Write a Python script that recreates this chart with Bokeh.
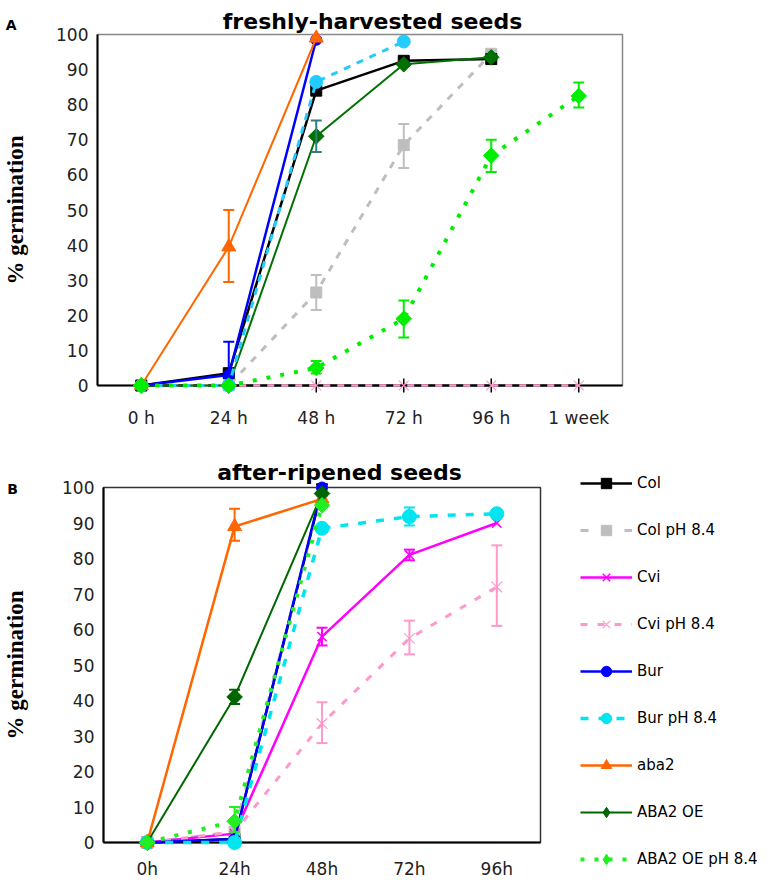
import numpy as np
from bokeh.plotting import figure
from bokeh.models import (Range1d, FixedTicker, Whisker, ColumnDataSource,
                          Legend, LegendItem, TeeHead)
from bokeh.layouts import column, row
from bokeh.core.properties import value
from bokeh.embed import file_html
from bokeh.resources import INLINE

# ---------------- data ----------------
top_cats = ["0 h", "24 h", "48 h", "72 h", "96 h", "1 week"]
bot_cats = ["0h", "24h", "48h", "72h", "96h"]

# A: freshly-harvested seeds (% germination)
fh_col = [0, 3.5, 84, 92.5, 93]
fh_col_ph = [0, 0, 26.5, 68.5, 94.5]
fh_cvi = [0, 0, 0, 0, 0, 0]
fh_cvi_ph = [0, 0, 0, 0, 0, 0]
fh_bur = [0, 3, 98.5]
fh_bur_ph = [0, 0, 86.5, 98]
fh_aba2 = [0, 39.5, 99]
fh_oe = [0, 0, 71, 91.5, 93.5]
fh_oe_ph = [0, 0, 5, 19, 65.5, 82.5]

# error bars A: (index, low, high)
fh_col_ph_err = ([2, 3], [21.5, 62], [31.5, 74.5])
fh_bur_err = ([1], [3], [12.5])
fh_aba2_err = ([1], [29.5], [50])
fh_oe_err = ([2], [66.5], [75.5])
fh_oe_ph_err = ([2, 3, 4, 5], [3.4, 13.7, 60.8, 79.2], [7, 24.2, 70, 86.3])

# B: after-ripened seeds (% germination)
ar_col = [0, 1, 99.5]
ar_col_ph = [0, 3, 99]
ar_cvi = [0, 2.5, 58, 81, 90]
ar_cvi_ph = [0, 3, 33.5, 57.5, 72]
ar_bur = [0, 1, 100]
ar_bur_ph = [0, 0, 88.5, 91.8, 92.6]
ar_aba2 = [0, 89, 96.8]
ar_oe = [0, 41, 98.3]
ar_oe_ph = [0, 6, 95]

# error bars B
ar_cvi_err = ([2, 3], [55.5, 79.5], [60.5, 82.5])
ar_cvi_ph_err = ([2, 3, 4], [28, 53, 61], [39.5, 62.5, 83.7])
ar_bur_ph_err = ([3], [89.3], [94.4])
ar_aba2_err = ([1], [85], [94])
ar_oe_err = ([1], [39], [43])
ar_oe_ph_err = ([1], [3], [10])

legend_labels = ["Col", "Col pH 8.4", "Cvi", "Cvi pH 8.4", "Bur", "Bur pH 8.4",
                 "aba2", "ABA2 OE", "ABA2 OE pH 8.4"]

FONT = "DejaVu Sans"
DIAMOND = np.pi / 4

# styles: (color, dash, line width, marker, marker size, marker line width, angle)
STY_B = [
    ("black", "solid", 2.5, "square", 11, 1.0, 0.0),
    ("#BEBEBE", "8 14", 3, "square", 11, 1.0, 0.0),
    ("#FF00FF", "solid", 2.5, "x", 13, 1.5, 0.0),
    ("#FF99CC", "7 10", 3, "x", 15, 1.2, 0.0),
    ("#0000FF", "solid", 2.5, "circle", 11, 1.0, 0.0),
    ("#00E5F0", "8 10", 3.5, "circle", 14, 1.0, 0.0),
    ("#FF6600", "solid", 2.5, "triangle", 14, 1.0, 0.0),
    ("#006600", "solid", 2, "square", 11, 1.0, DIAMOND),
    ("#22EE22", "4 10", 4, "square", 11, 1.0, DIAMOND),
]


def base_fig(cats, left, right, top, bottom, fw, fh, std):
    p = figure(output_backend="svg", toolbar_location=None,
               frame_width=fw, frame_height=fh,
               min_border_left=left, min_border_right=right,
               min_border_top=top, min_border_bottom=bottom,
               x_range=Range1d(-0.5, len(cats) - 0.5), y_range=Range1d(0, 100))
    p.background_fill_color = "white"
    p.border_fill_color = "white"
    p.xgrid.visible = False
    p.ygrid.visible = False
    p.xaxis.ticker = FixedTicker(ticks=list(range(len(cats))))
    p.xaxis.major_label_overrides = {i: c for i, c in enumerate(cats)}
    p.yaxis.ticker = FixedTicker(ticks=list(range(0, 101, 10)))
    for ax in (p.xaxis, p.yaxis):
        ax.major_tick_in = 0
        ax.major_tick_out = 0
        ax.minor_tick_in = 0
        ax.minor_tick_out = 0
        ax.axis_line_color = "black"
        ax.axis_line_width = 2
        ax.major_label_text_font = FONT
        ax.major_label_text_font_size = "17px"
        ax.major_label_text_color = "#222222"
    p.xaxis.major_label_standoff = std
    p.yaxis.major_label_standoff = 9
    p.yaxis.axis_label = "% germination"
    p.yaxis.axis_label_text_font = "Liberation Serif"
    p.yaxis.axis_label_text_font_style = "bold"
    p.yaxis.axis_label_text_font_size = "23px"
    p.yaxis.axis_label_text_color = "black"
    return p


def series(p, vals, color, dash, lw, marker, msize, mlw=1.0, angle=0.0):
    src = ColumnDataSource(dict(x=list(range(len(vals))), y=vals))
    lr = p.line("x", "y", source=src, line_color=color, line_width=lw, line_dash=dash)
    sr = p.scatter("x", "y", source=src, marker=marker, size=msize, angle=angle,
                   fill_color=color, line_color=color, line_width=mlw)
    lr.level = "overlay"
    sr.level = "overlay"
    return [lr, sr]


def errbar(p, err, color, lw=2, lower=True):
    src = ColumnDataSource(dict(x=err[0], lo=err[1], hi=err[2]))
    w = Whisker(base="x", lower="lo", upper="hi", source=src, dimension="height",
                line_color=color, line_width=lw, level="overlay",
                upper_head=TeeHead(size=11, line_color=color, line_width=lw),
                lower_head=TeeHead(size=11, line_color=color, line_width=lw) if lower else None)
    p.add_layout(w)


def label(p, x, y, text, size, align):
    r = p.text(x=[x], y=[y], text=[text], text_align=align, text_baseline="alphabetic",
               text_font=value(FONT), text_font_style="bold",
               text_font_size="%dpx" % size, text_color="black")
    r.level = "overlay"


# ---------------- panel A ----------------
pa = base_fig(top_cats, 90, 142, 34, 55, 525, 351, 22)
pa.outline_line_color = "#888888"
pa.outline_line_width = 1.5
pa.yaxis.axis_label_standoff = 25

series(pa, fh_cvi, "black", "solid", 2, "dash", 14, 1.5, np.pi / 2)
series(pa, fh_cvi_ph, "#FF99CC", "7 7", 2.5, "x", 14, 1.2)
series(pa, fh_col_ph, "#BEBEBE", "7 8", 3, "square", 11)
errbar(pa, fh_col_ph_err, "#BEBEBE")
series(pa, fh_col, "black", "solid", 2.5, "square", 11)
series(pa, fh_oe, "#007000", "solid", 2, "square", 11, 1.0, DIAMOND)
errbar(pa, fh_oe_err, "#2F7F7F")
series(pa, fh_bur, "#0000FF", "solid", 2.5, "circle", 11)
errbar(pa, fh_bur_err, "#0000FF", lower=False)
series(pa, fh_bur_ph, "#22CCFF", "7 7", 3, "circle", 13)
series(pa, fh_aba2, "#FF6600", "solid", 2, "triangle", 14)
errbar(pa, fh_aba2_err, "#FF6600")
series(pa, fh_oe_ph, "#00EE00", "4 10", 4, "square", 11, 1.0, DIAMOND)
errbar(pa, fh_oe_ph_err, "#00EE00")

label(pa, 2.643, 103.7, "freshly-harvested seeds", 22, "center")
label(pa, -1.55, 102.6, "A", 14, "left")

# ---------------- panel B ----------------
pb = base_fig(bot_cats, 95, 225, 47, 41, 437, 355, 16)
pb.outline_line_color = "#333333"
pb.outline_line_width = 1.5
pb.yaxis.axis_label_standoff = 31

b_series = [ar_col, ar_col_ph, ar_cvi, ar_cvi_ph, ar_bur, ar_bur_ph, ar_aba2, ar_oe, ar_oe_ph]
b_errs = {2: ar_cvi_err, 3: ar_cvi_ph_err, 5: ar_bur_ph_err, 6: ar_aba2_err,
          7: ar_oe_err, 8: ar_oe_ph_err}
items = []
for i, (vals, st) in enumerate(zip(b_series, STY_B)):
    rs = series(pb, vals, *st)
    if st[6] != 0.0:
        # legend-only diamond glyph (no visible data)
        d = pb.scatter(x=[np.nan], y=[np.nan], marker="diamond", size=14,
                       fill_color=st[0], line_color=st[0])
        rs = [rs[0], d]
    items.append(LegendItem(label=legend_labels[i], renderers=rs))
    if i in b_errs:
        errbar(pb, b_errs[i], st[0])

label(pb, 2.20, 104.2, "after-ripened seeds", 22, "center")
label(pb, -1.60, 99.7, "B", 14, "left")

leg = Legend(items=items, location=(40, -30), padding=0, margin=0,
             border_line_color=None, background_fill_alpha=0,
             glyph_width=52, glyph_height=26, spacing=21, label_standoff=5,
             label_text_font=FONT, label_text_font_size="15px", label_text_color="black")
pb.add_layout(leg, "right")

layout = column(pa, row(pb))
open("out.html", "w").write(file_html(layout, INLINE))
